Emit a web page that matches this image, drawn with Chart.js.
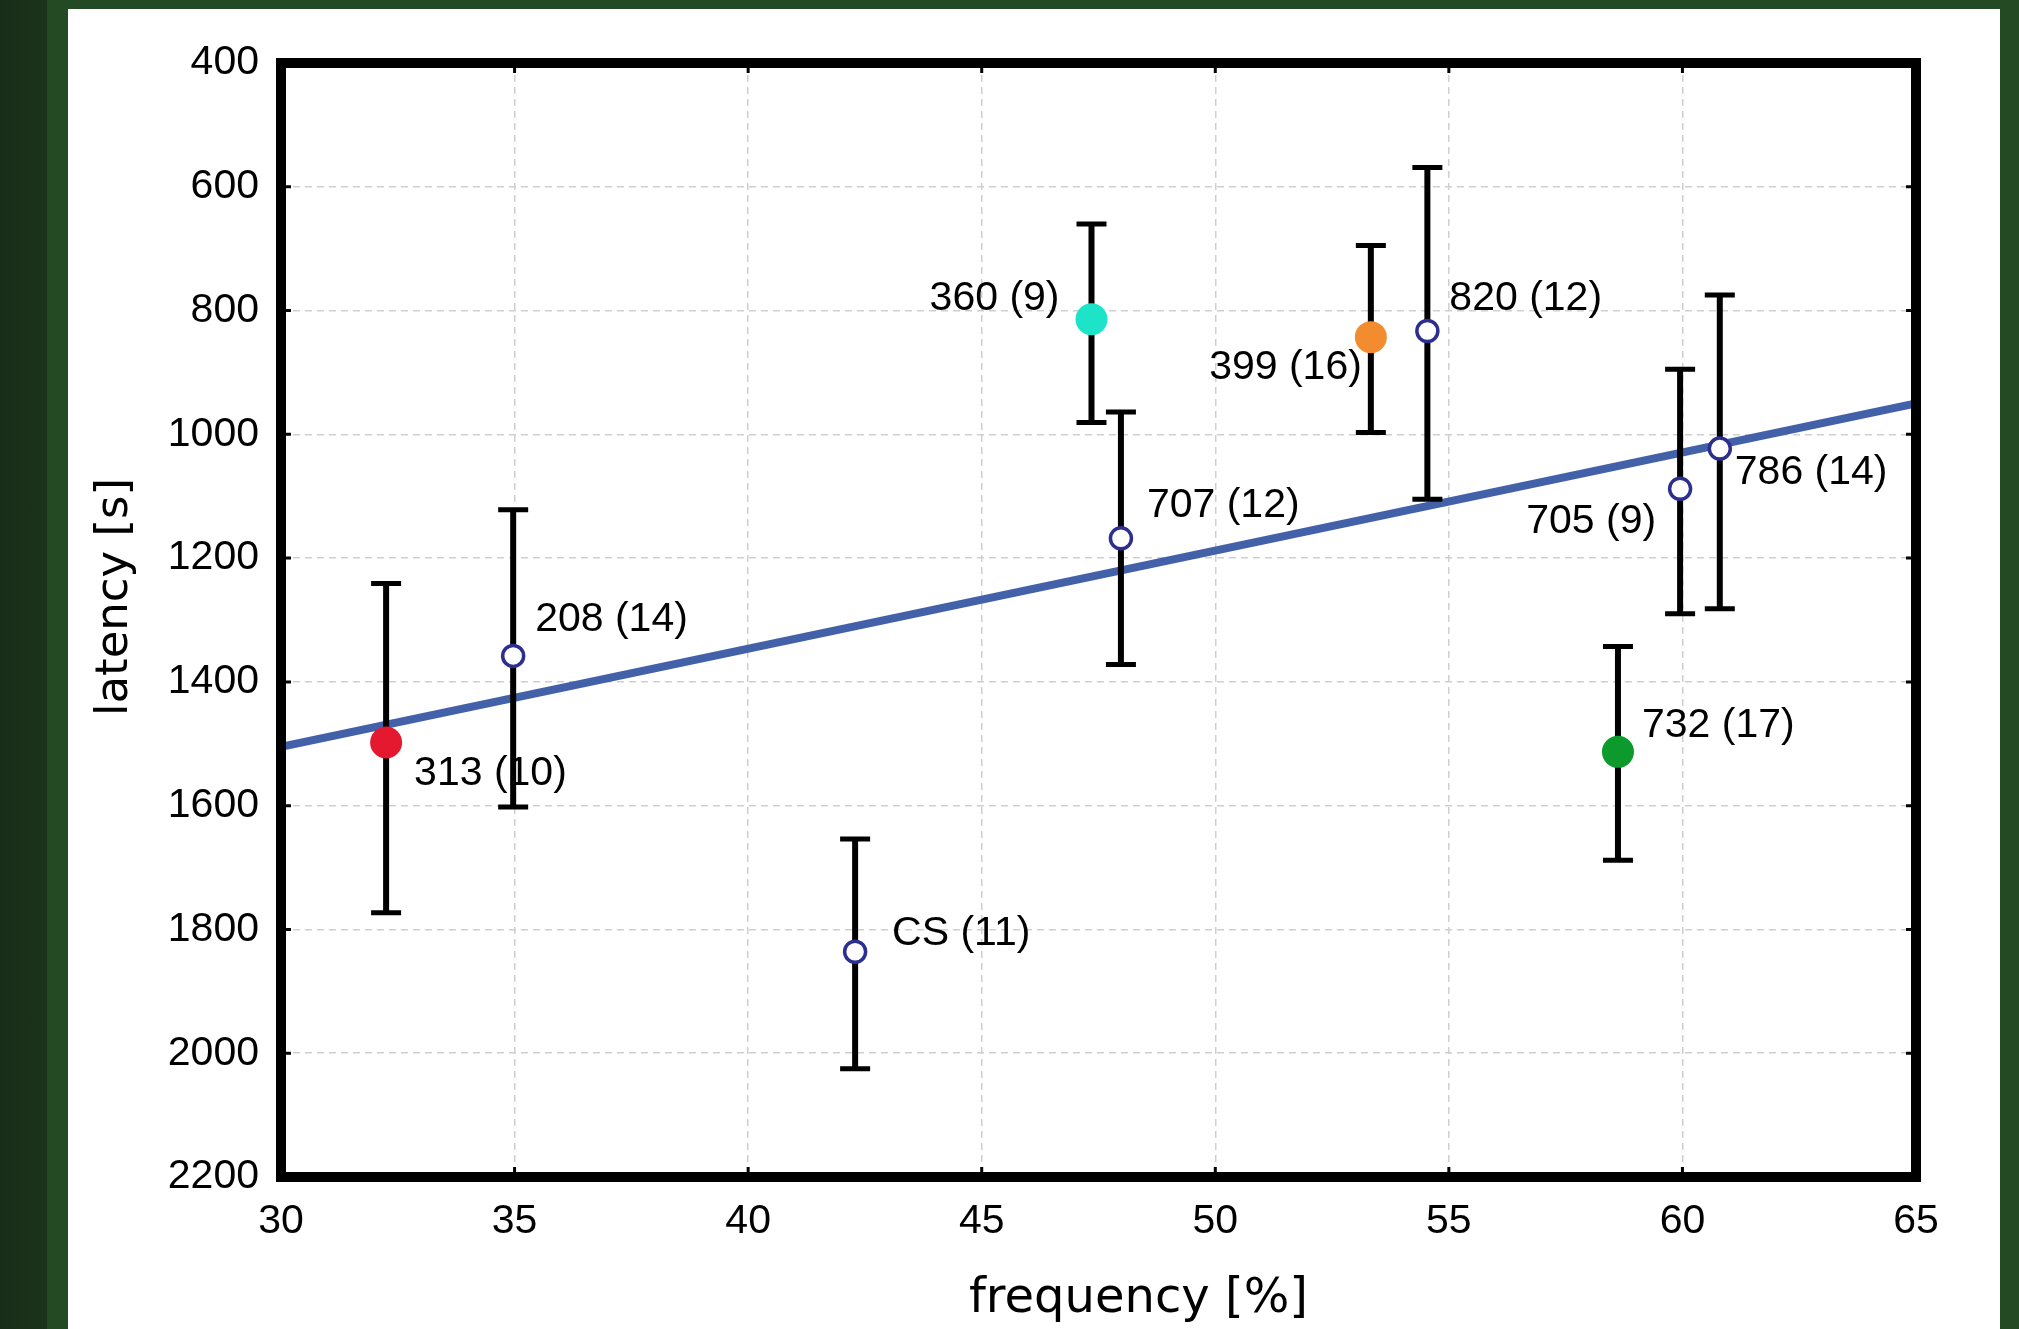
<!DOCTYPE html>
<html>
<head>
<meta charset="utf-8">
<script src="https://cdn.jsdelivr.net/npm/chart.js@4/dist/chart.umd.min.js"></script>
<style>
  html, body { margin: 0; padding: 0; }
  body {
    width: 2019px; height: 1329px; overflow: hidden;
    background: linear-gradient(to right, #182d17 0px, #1c331b 47px, #234a22 47px, #234a22 100%);
  }
  #panel {
    position: absolute; left: 68px; top: 9px; width: 1932px; height: 1320px;
    background: #ffffff;
  }
  canvas { display: block; }
</style>
</head>
<body>
<div id="panel"><canvas id="chart" width="1932" height="1320"></canvas></div>
<script>
// groups, shown as "name (n)"
const labels = ["313 (10)", "208 (14)", "CS (11)", "360 (9)", "707 (12)", "399 (16)", "820 (12)", "705 (9)", "786 (14)", "732 (17)"];
const frequency = [32.25, 34.97, 42.29, 47.35, 47.98, 53.33, 54.54, 59.95, 60.8, 58.62];
const latency = [1498, 1358, 1836, 814, 1168, 843, 833, 1088, 1023, 1513];
const latencyLow = [1241, 1122, 1654, 660, 964, 695, 569, 895, 775, 1343];
const latencyHigh = [1773, 1602, 2025, 981, 1372, 997, 1105, 1290, 1282, 1688];
// regression line
const fitX = [30, 65];
const fitY = [1505, 950];
const xTicks = [30, 35, 40, 45, 50, 55, 60, 65];
const yTicks = [400, 600, 800, 1000, 1200, 1400, 1600, 1800, 2000, 2200];

// marker styles per group (filled colour or open ring)
const fills = ["#e4192f", null, null, "#1de3c8", null, "#f28c2e", null, null, null, "#0b9a2b"];
// where each text label goes, relative to its point (px) and which side
const labelPos = [
  [28, 31, "left"], [22, -36, "left"], [37, -18, "left"], [-32, -21, "right"], [26, -33, "left"],
  [-9, 31, "right"], [22, -32, "left"], [-24, 33, "right"], [15, 24, "left"], [24, -26, "left"]
];

const FONT = "'Liberation Sans', Arial, sans-serif";
const TITLE_FONT = "'DejaVu Sans', Verdana, sans-serif";

const errorBars = {
  id: "errorBars",
  afterDatasetDraw(chart, args) {
    if (args.index !== 0) return;
    const { ctx, scales } = chart;
    ctx.save();
    ctx.strokeStyle = "#000";
    ctx.lineWidth = 6;
    frequency.forEach((f, i) => {
      const x = scales.x.getPixelForValue(f);
      const y1 = scales.y.getPixelForValue(latencyLow[i]);
      const y2 = scales.y.getPixelForValue(latencyHigh[i]);
      ctx.beginPath();
      ctx.moveTo(x, y1); ctx.lineTo(x, y2);
      ctx.stroke();
      ctx.lineWidth = 5;
      ctx.beginPath();
      ctx.moveTo(x - 15, y1); ctx.lineTo(x + 15, y1);
      ctx.moveTo(x - 15, y2); ctx.lineTo(x + 15, y2);
      ctx.stroke();
      ctx.lineWidth = 6;
    });
    ctx.restore();
  }
};

const frameAndText = {
  id: "frameAndText",
  afterDraw(chart) {
    const { ctx, chartArea: a, scales } = chart;
    ctx.save();
    // small inward ticks
    ctx.strokeStyle = "#000";
    ctx.lineWidth = 3;
    xTicks.forEach((v) => {
      const x = scales.x.getPixelForValue(v);
      ctx.beginPath();
      ctx.moveTo(x, a.bottom); ctx.lineTo(x, a.bottom - 10);
      ctx.moveTo(x, a.top); ctx.lineTo(x, a.top + 10);
      ctx.stroke();
    });
    yTicks.forEach((v) => {
      const y = scales.y.getPixelForValue(v);
      ctx.beginPath();
      ctx.moveTo(a.left, y); ctx.lineTo(a.left + 10, y);
      ctx.moveTo(a.right, y); ctx.lineTo(a.right - 10, y);
      ctx.stroke();
    });
    // frame
    ctx.lineWidth = 10;
    ctx.strokeRect(a.left, a.top, a.right - a.left, a.bottom - a.top);

    // point labels
    ctx.fillStyle = "#000";
    ctx.font = "41px " + FONT;
    ctx.textBaseline = "middle";
    labels.forEach((t, i) => {
      const x = scales.x.getPixelForValue(frequency[i]);
      const y = scales.y.getPixelForValue(latency[i]);
      const [dx, dy, side] = labelPos[i];
      ctx.textAlign = side;
      ctx.fillText(t, x + dx, y + dy);
    });

    // axis titles
    ctx.textAlign = "center";
    ctx.font = "48px " + TITLE_FONT;
    ctx.fillText("frequency [%]", (a.left + a.right) / 2 + 40, 1291);
    ctx.font = "45px " + TITLE_FONT;
    ctx.translate(47, 588);
    ctx.rotate(-Math.PI / 2);
    ctx.fillText("latency [s]", 0, 0);
    ctx.restore();
  }
};

const pointData = frequency.map((f, i) => ({ x: f, y: latency[i] }));

new Chart(document.getElementById("chart"), {
  type: "scatter",
  data: {
    datasets: [
      {
        type: "line",
        data: fitX.map((x, i) => ({ x, y: fitY[i] })),
        borderColor: "#4261a8",
        borderWidth: 8,
        pointRadius: 0,
        order: 2
      },
      {
        data: pointData,
        backgroundColor: fills.map((c) => c || "#ffffff"),
        borderColor: fills.map((c) => c || "#2d2f8f"),
        borderWidth: fills.map((c) => (c ? 0 : 3.5)),
        pointRadius: fills.map((c) => (c ? 16 : 10.5)),
        order: 1
      }
    ]
  },
  options: {
    responsive: false,
    animation: false,
    events: [],
    layout: { padding: { top: 54, right: 84, left: 0, bottom: 0 } },
    plugins: { legend: { display: false }, tooltip: { enabled: false } },
    scales: {
      x: {
        type: "linear",
        min: 30, max: 65,
        afterBuildTicks: (s) => { s.ticks = xTicks.map((v) => ({ value: v })); },
        afterFit: (s) => { s.height = 152; },
        grid: { color: "#cfcfcf", lineWidth: 1.5, drawTicks: false },
        border: { display: false, dash: [7, 5] },
        ticks: { color: "#000", font: { family: FONT, size: 41 }, padding: 20, maxRotation: 0,
                 callback: (v) => String(v) }
      },
      y: {
        type: "linear",
        reverse: true,
        min: 400, max: 2200,
        afterBuildTicks: (s) => { s.ticks = yTicks.map((v) => ({ value: v })); },
        afterFit: (s) => { s.width = 213; },
        grid: { color: "#cfcfcf", lineWidth: 1.5, drawTicks: false },
        border: { display: false, dash: [7, 5] },
        ticks: { color: "#000", font: { family: FONT, size: 41 }, padding: 22,
                 callback: (v) => String(v) }
      }
    }
  },
  plugins: [errorBars, frameAndText]
});
</script>
</body>
</html>
